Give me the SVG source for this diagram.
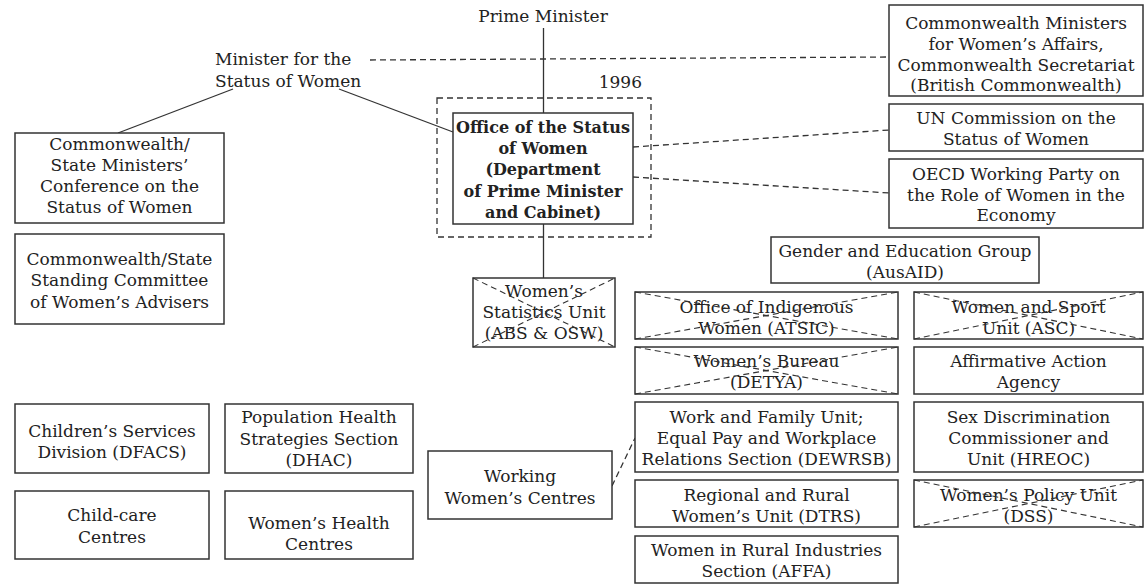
<svg xmlns="http://www.w3.org/2000/svg" width="1145" height="585" viewBox="0 0 1145 585">
<style>
text{font-family:"DejaVu Serif","Liberation Serif",serif;font-size:17px;fill:#222;text-anchor:middle}
.b{font-weight:bold;font-size:16px}
.l{text-anchor:start}
.e{text-anchor:end}
.box{fill:#fff;stroke:#333;stroke-width:1.5}
.ln{stroke:#333;stroke-width:1.3;fill:none}
.dl{stroke:#333;stroke-width:1.3;fill:none;stroke-dasharray:6 4}
.x{stroke:#333;stroke-width:1.1;fill:none;stroke-dasharray:6 4}
</style>
<rect width="1145" height="585" fill="#fff"/>
<g id="connectors">
<line class="ln" x1="543.5" y1="28" x2="543.5" y2="113"/>
<line class="ln" x1="543.5" y1="224" x2="543.5" y2="278"/>
<line class="ln" x1="233" y1="89" x2="118" y2="133"/>
<line class="ln" x1="339" y1="89" x2="453" y2="132"/>
<line class="dl" x1="370" y1="60" x2="889" y2="57"/>
<line class="dl" x1="633" y1="147" x2="889" y2="130"/>
<line class="dl" x1="633" y1="177" x2="889" y2="193"/>
<line class="dl" x1="612" y1="486" x2="635" y2="438"/>
</g>
<g id="prime-minister"><text x="543" y="22">Prime Minister</text></g>
<g id="minister"><text class="l" x="215" y="65">Minister for the</text><text class="l" x="215" y="87">Status of Women</text></g>
<g id="osw-1996">
<rect x="437" y="98" width="214" height="139" fill="none" class="dl"/>
<text class="e" x="642" y="88">1996</text>
</g>
<g id="osw">
<rect class="box" x="453" y="113" width="180" height="111"/>
<text class="b" x="543" y="133">Office of the Status</text>
<text class="b" x="543" y="154">of Women</text>
<text class="b" x="543" y="175">(Department</text>
<text class="b" x="543" y="196.5">of Prime Minister</text>
<text class="b" x="543" y="217.5">and Cabinet)</text>
</g>
<g id="cw-ministers">
<rect class="box" x="889" y="5" width="254" height="91"/>
<text x="1016" y="28.5">Commonwealth Ministers</text>
<text x="1016" y="49.5">for Women’s Affairs,</text>
<text x="1016" y="70.5">Commonwealth Secretariat</text>
<text x="1016" y="90.5">(British Commonwealth)</text>
</g>
<g id="un">
<rect class="box" x="889" y="104" width="254" height="47"/>
<text x="1016" y="124">UN Commission on the</text>
<text x="1016" y="145">Status of Women</text>
</g>
<g id="oecd">
<rect class="box" x="889" y="159" width="254" height="69"/>
<text x="1016" y="180">OECD Working Party on</text>
<text x="1016" y="200.5">the Role of Women in the</text>
<text x="1016" y="221">Economy</text>
</g>
<g id="ausaid">
<rect class="box" x="771" y="237" width="268" height="46"/>
<text x="905" y="257">Gender and Education Group</text>
<text x="905" y="277.5">(AusAID)</text>
</g>
<g id="atsic">
<rect class="box" x="635" y="292" width="263" height="47"/>
<text x="766.5" y="313">Office of Indigenous</text>
<text x="766.5" y="334">Women (ATSIC)</text>
<path class="x" d="M635 292L898 339M635 339L898 292"/>
</g>
<g id="asc">
<rect class="box" x="914" y="292" width="229" height="47"/>
<text x="1028.5" y="313">Women and Sport</text>
<text x="1028.5" y="334">Unit (ASC)</text>
<path class="x" d="M914 292L1143 339M914 339L1143 292"/>
</g>
<g id="detya">
<rect class="box" x="635" y="347" width="263" height="47"/>
<text x="766.5" y="367">Women’s Bureau</text>
<text x="766.5" y="388">(DETYA)</text>
<path class="x" d="M635 347L898 394M635 394L898 347"/>
</g>
<g id="affirmative">
<rect class="box" x="914" y="347" width="229" height="47"/>
<text x="1028.5" y="367">Affirmative Action</text>
<text x="1028.5" y="388">Agency</text>
</g>
<g id="dewrsb">
<rect class="box" x="635" y="402" width="263" height="70"/>
<text x="766.5" y="423">Work and Family Unit;</text>
<text x="766.5" y="444">Equal Pay and Workplace</text>
<text x="766.5" y="465">Relations Section (DEWRSB)</text>
</g>
<g id="hreoc">
<rect class="box" x="914" y="402" width="229" height="70"/>
<text x="1028.5" y="423">Sex Discrimination</text>
<text x="1028.5" y="444">Commissioner and</text>
<text x="1028.5" y="465">Unit (HREOC)</text>
</g>
<g id="dtrs">
<rect class="box" x="635" y="480" width="263" height="47"/>
<text x="766.5" y="500.5">Regional and Rural</text>
<text x="766.5" y="521.5">Women’s Unit (DTRS)</text>
</g>
<g id="dss">
<rect class="box" x="914" y="480" width="229" height="47"/>
<text x="1028.5" y="500.5">Women’s Policy Unit</text>
<text x="1028.5" y="521.5">(DSS)</text>
<path class="x" d="M914 480L1143 527M914 527L1143 480"/>
</g>
<g id="affa">
<rect class="box" x="635" y="536" width="263" height="47"/>
<text x="766.5" y="556">Women in Rural Industries</text>
<text x="766.5" y="577">Section (AFFA)</text>
</g>
<g id="wsu">
<rect class="box" x="473" y="278" width="142" height="69"/>
<text x="544" y="297">Women’s</text>
<text x="544" y="318">Statistics Unit</text>
<text x="544" y="339">(ABS &amp; OSW)</text>
<path class="x" d="M473 278L615 347M473 347L615 278"/>
</g>
<g id="csmc">
<rect class="box" x="15" y="133" width="209" height="90"/>
<text x="119.5" y="150">Commonwealth/</text>
<text x="119.5" y="171">State Ministers’</text>
<text x="119.5" y="192">Conference on the</text>
<text x="119.5" y="213">Status of Women</text>
</g>
<g id="cssc">
<rect class="box" x="15" y="234" width="209" height="90"/>
<text x="119.5" y="264.5">Commonwealth/State</text>
<text x="119.5" y="286">Standing Committee</text>
<text x="119.5" y="307.5">of Women’s Advisers</text>
</g>
<g id="dfacs">
<rect class="box" x="15" y="404" width="194" height="69"/>
<text x="112" y="436.5">Children’s Services</text>
<text x="112" y="458">Division (DFACS)</text>
</g>
<g id="dhac">
<rect class="box" x="225" y="404" width="188" height="69"/>
<text x="319" y="423">Population Health</text>
<text x="319" y="445">Strategies Section</text>
<text x="319" y="466">(DHAC)</text>
</g>
<g id="childcare">
<rect class="box" x="15" y="491" width="194" height="68"/>
<text x="112" y="521">Child-care</text>
<text x="112" y="542.5">Centres</text>
</g>
<g id="whc">
<rect class="box" x="225" y="491" width="188" height="68"/>
<text x="319" y="528.5">Women’s Health</text>
<text x="319" y="550">Centres</text>
</g>
<g id="wwc">
<rect class="box" x="428" y="451" width="184" height="68"/>
<text x="520" y="482">Working</text>
<text x="520" y="503.5">Women’s Centres</text>
</g>
</svg>
